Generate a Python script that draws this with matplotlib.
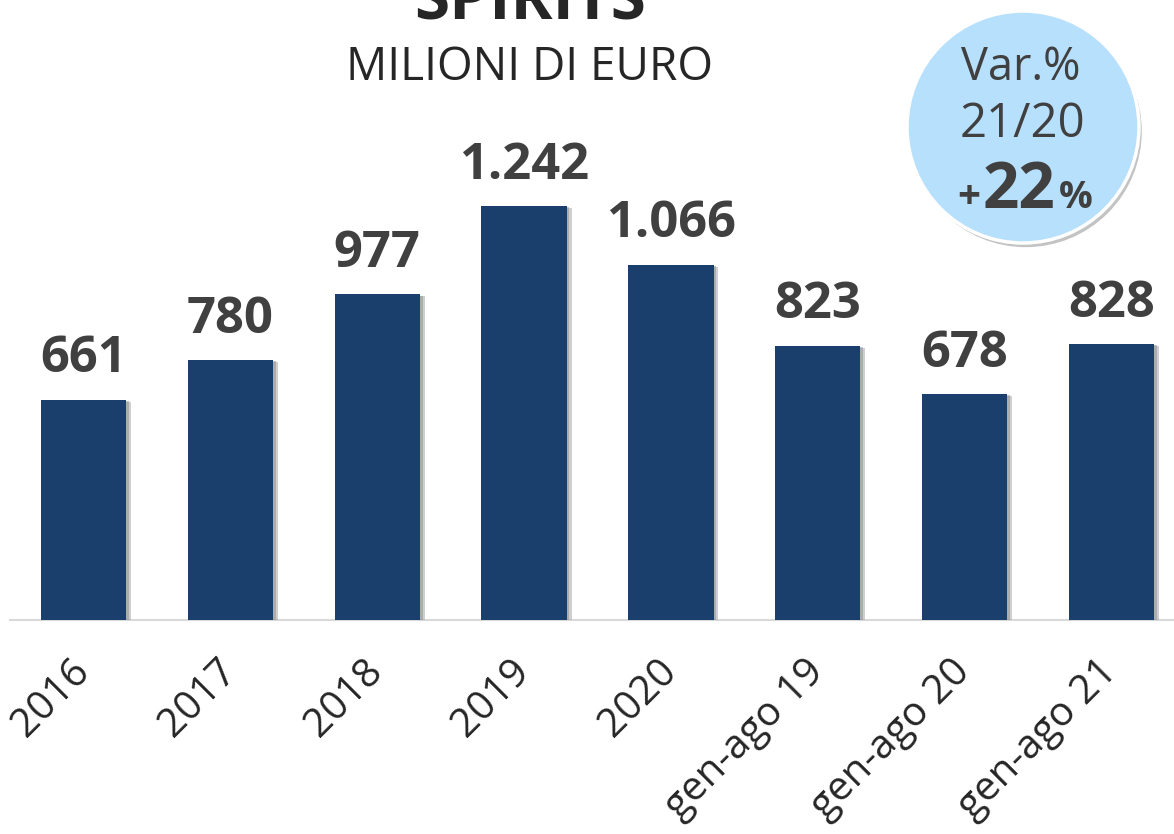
import matplotlib
matplotlib.use("Agg")
import matplotlib.pyplot as plt
import matplotlib.patheffects as pe
from matplotlib.patches import Circle

categories = ["2016", "2017", "2018", "2019", "2020", "gen-ago 19", "gen-ago 20", "gen-ago 21"]
values = [661, 780, 977, 1242, 1066, 823, 678, 828]
value_labels = ["661", "780", "977", "1.242", "1.066", "823", "678", "828"]
title = "SPIRITS"
subtitle = "MILIONI DI EURO"
badge_lines = ["Var.%", "21/20"]
badge_value = "22"

FONT = "Open Sans"
TXT = "#404040"
BAR = "#1b3f6c"

W, H = 1174, 834
fig = plt.figure(figsize=(W / 100, H / 100), dpi=100)
ax = fig.add_axes([10 / W, 214 / H, 1175 / W, 620 / H])
ax.set_xlim(-0.5, 7.5)
ax.set_ylim(0, 1860)

x = list(range(len(categories)))
bars = ax.bar(x, values, width=0.58, color=BAR, zorder=3)
for b in bars:
    b.set_path_effects([
        pe.SimplePatchShadow(offset=(3.5, -1.5), shadow_rgbFace="#a8a8a8", alpha=0.55),
        pe.SimplePatchShadow(offset=(2, -1), shadow_rgbFace="#8a8a8a", alpha=0.5),
        pe.Normal(),
    ])

for xi, v, lab in zip(x, values, value_labels):
    ax.annotate(lab, (xi, v), xytext=(0, 11), textcoords="offset points",
                ha="center", va="bottom", fontsize=36.5, fontweight="bold",
                color=TXT, family=FONT)

for s in ["top", "right", "left"]:
    ax.spines[s].set_visible(False)
ax.spines["bottom"].set_color("#d9d9d9")
ax.spines["bottom"].set_linewidth(1.5)
ax.set_yticks([])
ax.set_xticks(x)
ax.set_xticklabels(categories, rotation=45, ha="right", va="center",
                   rotation_mode="anchor", fontsize=29, color="#262626", family=FONT)
ax.tick_params(axis="x", length=0, pad=33)

fig.text(530 / W, 1 - 20 / H, title, ha="center", va="baseline", fontsize=46,
         fontweight="bold", color="#262626", family=FONT)
fig.text(530 / W, 1 - 80 / H, subtitle, ha="center", va="baseline", fontsize=33,
         color="#262626", family=FONT)

# badge circle
cx, cy, r = 1023, 127, 116
circ = Circle((cx, H - cy), r, transform=None, facecolor="#b7e0fd",
              edgecolor="white", linewidth=2.5, zorder=5)
circ.set_path_effects([
    pe.SimplePatchShadow(offset=(2, -3), shadow_rgbFace="#888888", alpha=0.5),
    pe.Normal(),
])
fig.add_artist(circ)
fig.text(1021 / W, 1 - 80 / H, badge_lines[0], ha="center", va="baseline",
         fontsize=32.5, color=TXT, family=FONT, zorder=6)
fig.text(1022 / W, 1 - 137 / H, badge_lines[1], ha="center", va="baseline",
         fontsize=34, color=TXT, family=FONT, zorder=6)
fig.text(1019 / W, 1 - 208 / H, badge_value, ha="center", va="baseline",
         fontsize=46, fontweight="bold", color=TXT, family=FONT, zorder=6)
fig.text(980 / W, 1 - 208 / H, "+", ha="right", va="baseline",
         fontsize=29, fontweight="bold", color=TXT, family=FONT, zorder=6)
fig.text(1059 / W, 1 - 208 / H, "%", ha="left", va="baseline",
         fontsize=27, fontweight="bold", color=TXT, family=FONT, zorder=6)

fig.savefig("out.png", dpi=100)
